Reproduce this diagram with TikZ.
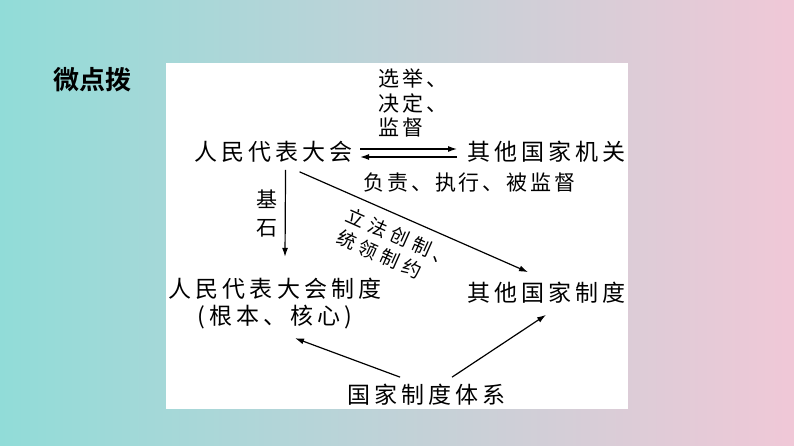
\documentclass[tikz,border=0pt]{standalone}
\usepackage{fontspec}
\usetikzlibrary{arrows.meta}
\newfontfamily\cjkmain{Noto Sans CJK SC}[LetterSpace=18]
\newfontfamily\cjklab{Noto Sans CJK SC}[LetterSpace=14]
\newfontfamily\cjkrot{Noto Sans CJK SC}[LetterSpace=25]
\newfontfamily\cjktitle{Noto Sans CJK SC Bold}
\definecolor{bgteal}{RGB}{145,220,216}
\definecolor{bgmid}{RGB}{226,228,236}
\definecolor{bgpink}{RGB}{240,200,215}

\begin{document}
\begin{tikzpicture}[x=1pt,y=-1pt,>={Latex[length=9pt,width=6pt]},
    box/.style={inner sep=0pt,font=\cjkmain\fontsize{23pt}{27pt}\selectfont},
    lab/.style={inner sep=0pt,font=\cjklab\fontsize{21pt}{24.5pt}\selectfont},
    link/.style={->,line width=1.2pt}]
    \useasboundingbox (0,0) rectangle (794,446);
    %Background
    \shade[left color=bgteal,middle color=bgmid,right color=bgpink] (0,0) rectangle (794,446);
    \fill[white] (166,63) rectangle (628,409);
    \node[inner sep=0pt,font=\cjktitle\fontsize{26pt}{30pt}\selectfont] (tip) at (92,80) {微点拨};

    %Bodies
    \node[box,anchor=west] (npc) at (194,152) {人民代表大会};
    \node[box,anchor=west] (organs) at (467,152) {其他国家机关};
    \node[box,align=center] (npcsys) at (275,303.5) {人民代表大会制度\\(根本、核心)};
    \node[box,anchor=west] (othersys) at (467,293) {其他国家制度};
    \node[box,anchor=west] (statesys) at (347,395) {国家制度体系};

    %Labels
    \node[lab,anchor=west,align=left] (elect) at (378,103) {选举、\\决定、\\监督};
    \node[lab,anchor=west] (duty) at (363,183) {负责、执行、被监督};
    \node[lab,align=center,font=\cjklab\fontsize{21pt}{28pt}\selectfont] (base) at (267,214) {基\\石};
    \node[inner sep=0pt,font=\cjkrot\fontsize{19pt}{24.2pt}\selectfont,rotate=-24,align=left] (law) at (395,248) {立法创制、\\统领制约};

    %Arrows
    \draw[link] ([xshift=7pt,yshift=3pt]npc.east) -- ([xshift=-10pt,yshift=3pt]organs.west);
    \draw[link] ([xshift=-10pt,yshift=-5pt]organs.west) -- ([xshift=7pt,yshift=-5pt]npc.east);
    \draw[link] ([xshift=12pt,yshift=-7pt]npc.south) -- ([xshift=10pt,yshift=21pt]npcsys.north);
    \draw[link] ([xshift=26pt,yshift=-9pt]npc.south) -- ([xshift=-18.5pt,yshift=10pt]othersys.north);
    \draw[link] ([xshift=-26.5pt,yshift=7pt]statesys.north) -- ([xshift=20pt,yshift=-9pt]npcsys.south);
    \draw[link] ([xshift=25.5pt,yshift=7pt]statesys.north) -- ([xshift=-0.5pt,yshift=-11pt]othersys.south);
\end{tikzpicture}
\end{document}
